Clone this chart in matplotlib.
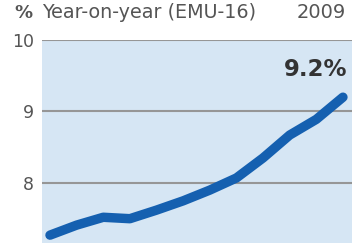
import matplotlib.pyplot as plt

# monthly year-on-year rate, EMU-16, 2009
months = list(range(1, 13))
rate = [7.27, 7.41, 7.52, 7.50, 7.62, 7.75, 7.90, 8.07, 8.35, 8.67, 8.89, 9.20]
yticks = [8, 9, 10]
last_label = "9.2%"

BG = "#d6e6f4"
LINE = "#1560b0"
GRID = "#969696"
TXT = "#555555"

fig = plt.figure(figsize=(3.58, 2.43), dpi=100)
ax = fig.add_axes([42 / 358, 0, 310 / 358, 203 / 243])
ax.set_facecolor(BG)

for y in yticks:
    ax.axhline(y, color=GRID, lw=1.5, zorder=1)

ax.plot(months, rate, color=LINE, lw=6.8, solid_capstyle="round",
        solid_joinstyle="round", zorder=3)

ax.set_xlim(0.70, 12.34)
ax.set_ylim(7.16, 10)
ax.set_yticks(yticks)
ax.set_yticklabels([str(t) for t in yticks], fontsize=12.5, color=TXT,
                   family="DejaVu Sans")
ax.tick_params(axis="y", length=0, pad=6)
ax.set_xticks([])
for s in ax.spines.values():
    s.set_visible(False)

ax.annotate(last_label, (months[-1], rate[-1]), xytext=(3, 20),
            textcoords="offset points", ha="right", va="center",
            fontsize=16.5, fontweight="bold", color="#333333",
            family="DejaVu Sans")

fig.text(14 / 358, 1 - 13 / 243, "%", fontsize=13, fontweight="bold",
         color=TXT, va="center", ha="left", family="DejaVu Sans")
fig.text(42 / 358, 1 - 13 / 243, "Year-on-year (EMU-16)", fontsize=13.8,
         color=TXT, va="center", ha="left", family="DejaVu Sans")
fig.text(346 / 358, 1 - 13 / 243, "2009", fontsize=14, color=TXT,
         va="center", ha="right", family="DejaVu Sans")

fig.savefig("out.png", dpi=100)
